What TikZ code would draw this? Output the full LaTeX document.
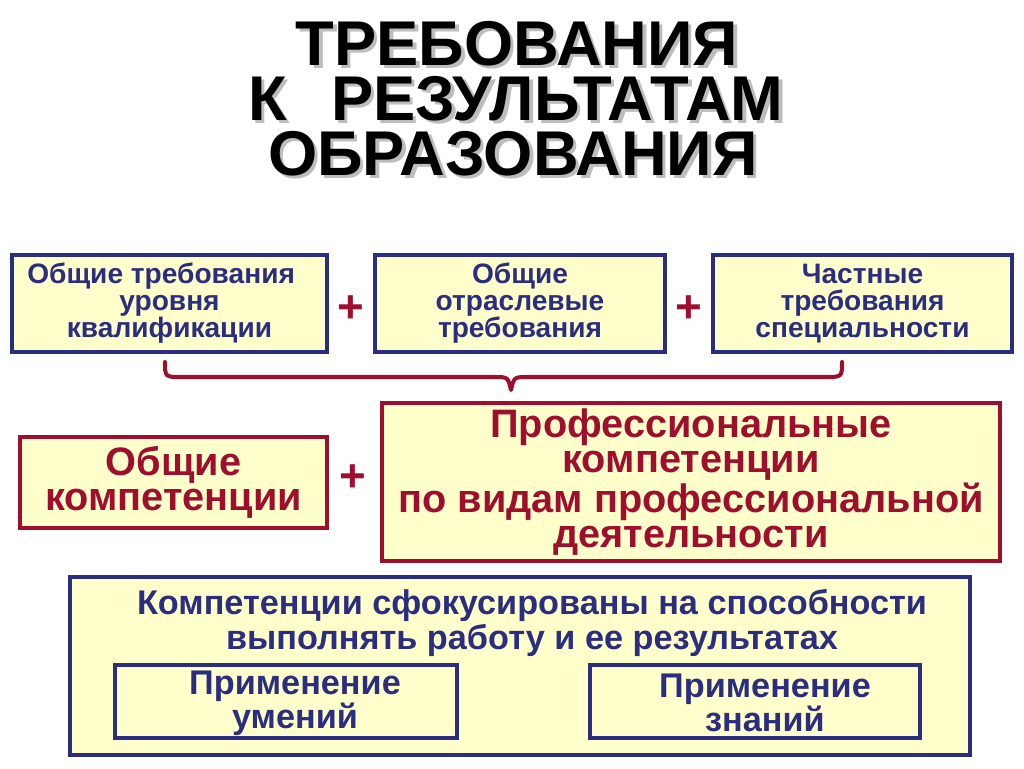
\documentclass[tikz,border=0pt]{standalone}
\usepackage{fontspec}
\setmainfont{Liberation Sans}
\definecolor{navy}{HTML}{2B2D7E}
\definecolor{wine}{HTML}{9E0F2E}
\definecolor{pale}{HTML}{FFFFCC}
\definecolor{shade}{HTML}{BDBDBD}
\newcommand{\shadowtext}[1]{\makebox[0pt][l]{\hspace{2pt}\raisebox{-2pt}{\textcolor{shade}{#1}}}#1}
\begin{document}
\begin{tikzpicture}[x=0.02cm,y=-0.02cm,
  bluebox/.style={draw=navy,line width=1.8pt,fill=pale,inner sep=0pt,align=center,text=navy,font=\bfseries\fontsize{16}{15.4}\selectfont},
  redbox/.style={draw=wine,line width=1.8pt,fill=pale,inner sep=0pt,align=center,text=wine,font=\bfseries\fontsize{22.6}{20}\selectfont},
  bigblue/.style={draw=navy,line width=2.2pt,fill=pale,inner sep=0pt},
  subbox/.style={draw=navy,line width=2pt,fill=pale,inner sep=0pt},
  ttl/.style={anchor=base,font=\bfseries\fontsize{36}{36}\selectfont},
  plus/.style={text=wine,font=\bfseries\fontsize{26}{26}\selectfont,inner sep=0pt},
  bluetxt/.style={text=navy,align=center,inner sep=0pt},
  brace/.style={draw=wine,line width=2.3pt,line cap=round,line join=round}]
\useasboundingbox (0,0) rectangle (1024,768);
% title
\node[ttl] (t1) at (517,65) {\shadowtext{ТРЕБОВАНИЯ}};
\node[ttl] (t2) at (516,120) {\shadowtext{К\hspace{0.7em}РЕЗУЛЬТАТАМ}};
\node[ttl] (t3) at (513,175) {\shadowtext{ОБРАЗОВАНИЯ}};
% top row
\node[bluebox,minimum width=6.3cm,minimum height=1.94cm] (b1) at (169.5,303.5) {\mbox{Общие требования\hspace{0.6em}}\\уровня\\квалификации};
\node[bluebox,minimum width=5.8cm,minimum height=1.94cm] (b2) at (520,303.5) {Общие\\отраслевые\\требования};
\node[bluebox,minimum width=5.98cm,minimum height=1.94cm] (b3) at (862.5,303.5) {Частные\\требования\\специальности};
\node[plus] (p1) at (351,309) {+};
\node[plus] (p2) at (689,309) {+};
% brace
\coordinate (bl) at (165,362);
\coordinate (bt) at (511,390);
\coordinate (br) at (842,362);
\draw[brace] (bl) .. controls (165,377) .. (182,377) -- (494,377)
  .. controls (508,377) .. (bt) .. controls (514,377) .. (528,377) -- (825,377)
  .. controls (842,377) .. (br);
% middle row
\node[redbox,minimum width=6.14cm,minimum height=1.82cm] (b4) at (173.5,482.5) {Общие\\компетенции};
\node[redbox,minimum width=12.36cm,minimum height=3.16cm] (b5) at (691,482) {Профессиональные\\компетенции\\по видам профессиональной\\деятельности};
\node[plus] (p3) at (353,478) {+};
% bottom
\node[bigblue,minimum width=18cm,minimum height=3.56cm] (b6) at (520,666) {};
\node[bluetxt,font=\bfseries\fontsize{19.5}{20}\selectfont] (t6) at (532,623) {Компетенции сфокусированы на способности\\выполнять работу и ее результатах};
\node[subbox,minimum width=6.84cm,minimum height=1.46cm] (b7) at (286,701.5) {};
\node[subbox,minimum width=6.6cm,minimum height=1.46cm] (b8) at (755,701.5) {};
\node[bluetxt,font=\bfseries\fontsize{19.5}{16}\selectfont] (t7) at (295,703) {Применение\\умений};
\node[bluetxt,font=\bfseries\fontsize{19.5}{16}\selectfont] (t8) at (765,703) {Применение\\знаний};
\end{tikzpicture}
\end{document}
